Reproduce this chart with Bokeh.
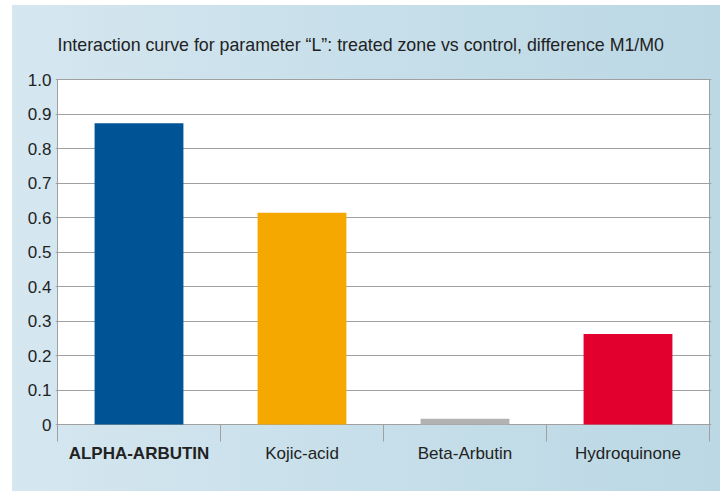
from bokeh.plotting import figure
from bokeh.models import Range1d, FixedTicker, ColumnDataSource, NumeralTickFormatter
from bokeh.core.properties import value
from bokeh.embed import file_html
from bokeh.resources import INLINE

title_text = "Interaction curve for parameter \u201cL\u201d: treated zone vs control, difference M1/M0"
categories = ["ALPHA-ARBUTIN", "Kojic-acid", "Beta-Arbutin", "Hydroquinone"]
values = [0.873, 0.614, 0.017, 0.262]
colors = ["#005495", "#f5a800", "#b2b2b2", "#e2002f"]
label_styles = ["bold", "normal", "normal", "normal"]
y_ticks = [0, 0.1, 0.2, 0.3, 0.4, 0.5, 0.6, 0.7, 0.8, 0.9, 1.0]

n = len(categories)
xs = [i + 0.5 for i in range(n)]
separators = list(range(n + 1))
y_max = y_ticks[-1]

FONT = "Liberation Sans"
GREY = "#a0a0a0"
TXT = "#222222"

# layout constants (pixels -> data units)
px_x = 1.0 / 163.0
px_y = 1.0 / 345.0
tick_len = 17 * px_y
label_y = -29 * px_y

p = figure(width=720, height=491, output_backend="svg", toolbar_location=None,
           x_range=Range1d(-2 * px_x, n + 2 * px_x),
           y_range=Range1d(-41 * px_y, y_max + 2 * px_y),
           min_border_left=55, min_border_right=9, min_border_top=77, min_border_bottom=26)

p.border_fill_alpha = 0
p.background_fill_alpha = 0
p.outline_line_color = None
p.styles = {"background": (
    "linear-gradient(white, white) left top / 100% 5px no-repeat, "
    "linear-gradient(white, white) left top / 12px 100% no-repeat, "
    "linear-gradient(to right, #d6e7f0 0%, #c7dfea 50%, #bbd8e4 100%)")}

p.title.text = title_text
p.title.text_font = FONT
p.title.text_font_size = "17.8px"
p.title.text_font_style = "normal"
p.title.text_color = TXT
p.title.align = "left"
p.title.offset = 2
p.title.standoff = 46

# white plot area with grey outline
area = p.quad(left=[0], right=[n], bottom=[0], top=[y_max],
              fill_color="white", line_color=GREY, line_width=1)
area.level = "image"

src = ColumnDataSource(dict(x=xs, top=values, color=colors, name=categories,
                            style=label_styles, ly=[label_y] * n))
p.vbar(x="x", top="top", width=0.545, color="color", source=src, line_color=None)

# separator ticks below the axis
p.segment(x0=separators, y0=[0] * (n + 1), x1=separators, y1=[-tick_len] * (n + 1),
          line_color=GREY, line_width=1)

# category labels
p.text(x="x", y="ly", text="name", source=src, text_align="center",
       text_baseline="middle", text_font_style="style",
       text_font=value(FONT), text_font_size=value("17px"), text_color=TXT)

p.xaxis.visible = False
p.xgrid.grid_line_color = None

ya = p.yaxis[0]
ya.ticker = FixedTicker(ticks=y_ticks)
ya.formatter = NumeralTickFormatter(format="0.0")
ya.major_label_overrides = {0: "0"}
ya.major_tick_in = 0
ya.major_tick_out = 0
ya.major_label_standoff = 4
ya.minor_tick_line_color = None
ya.axis_line_color = None
ya.major_label_text_font = FONT
ya.major_label_text_font_size = "17px"
ya.major_label_text_color = TXT

p.ygrid.ticker = FixedTicker(ticks=y_ticks)
p.ygrid.grid_line_color = GREY
p.ygrid.grid_line_width = 1
p.ygrid.bounds = (0, y_max)

open("out.html", "w").write(file_html(p, INLINE))
